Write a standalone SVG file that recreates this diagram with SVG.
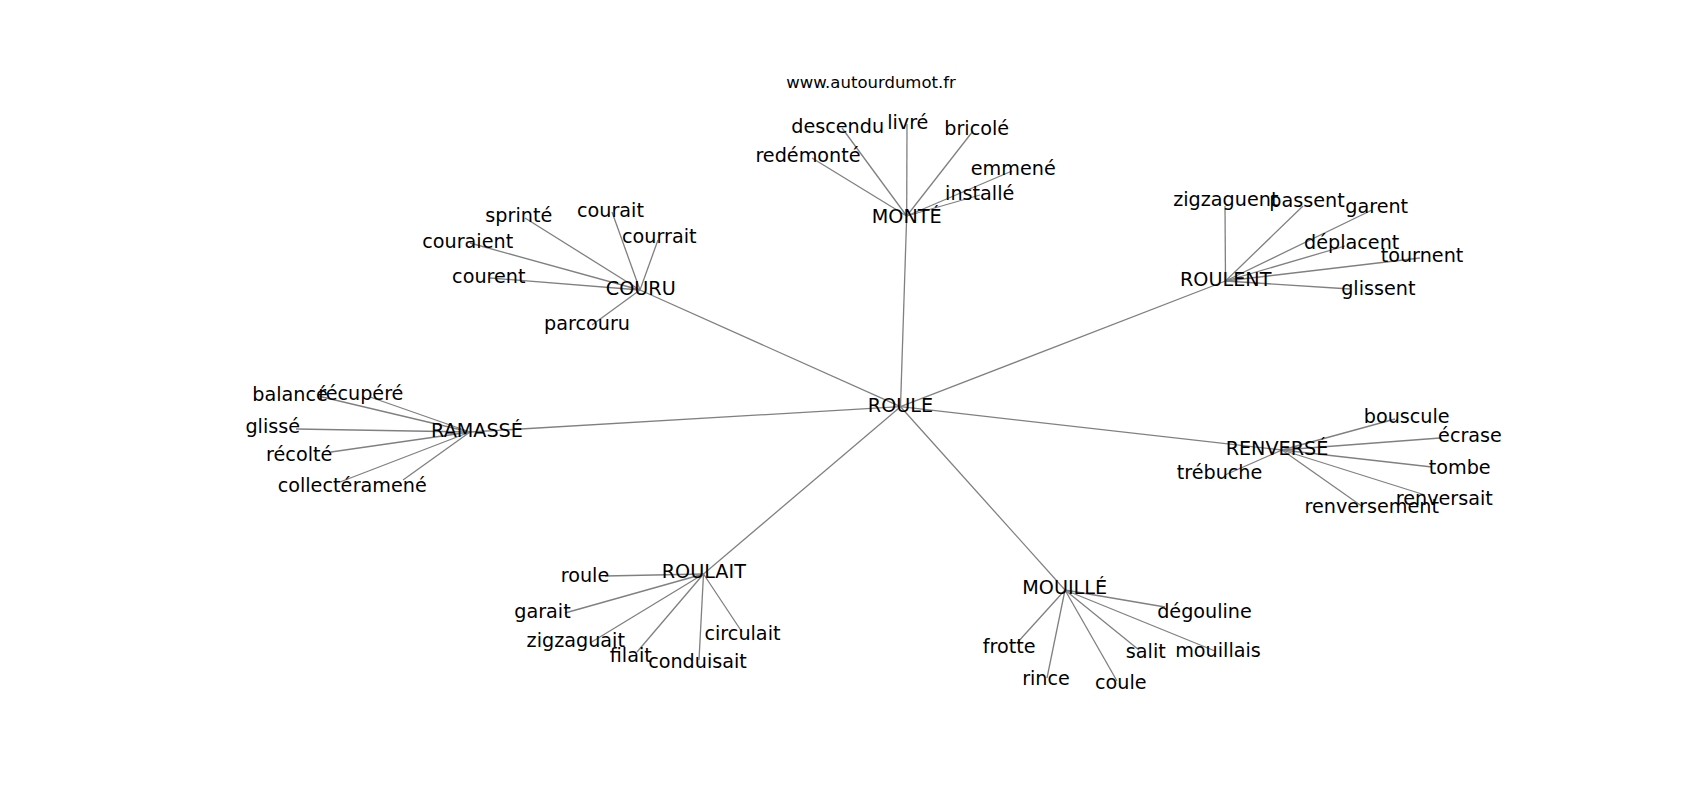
<svg xmlns="http://www.w3.org/2000/svg" width="1700" height="800" viewBox="0 0 1700 800">
<style>
.e{stroke:#808080;stroke-width:1.3;fill:none}
text{font-family:"DejaVu Sans","Liberation Sans",sans-serif;font-size:19.2px;fill:#000;text-anchor:middle}
.t{font-size:16.5px}
</style>
<rect width="1700" height="800" fill="#fff"/>
<text class="t" x="871" y="88">www.autourdumot.fr</text>
<g id="connectors">
<line class="e" x1="900.5" y1="406.7" x2="906.7" y2="216"/>
<line class="e" x1="900.5" y1="406.7" x2="640" y2="290"/>
<line class="e" x1="900.5" y1="406.7" x2="1225.5" y2="281"/>
<line class="e" x1="900.5" y1="406.7" x2="470" y2="432"/>
<line class="e" x1="900.5" y1="406.7" x2="1282" y2="450"/>
<line class="e" x1="900.5" y1="406.7" x2="703.5" y2="574"/>
<line class="e" x1="900.5" y1="406.7" x2="1065" y2="590"/>
<line class="e" x1="906.7" y1="216" x2="842" y2="128"/>
<line class="e" x1="906.7" y1="216" x2="907" y2="124"/>
<line class="e" x1="906.7" y1="216" x2="973" y2="131"/>
<line class="e" x1="906.7" y1="216" x2="812" y2="158"/>
<line class="e" x1="906.7" y1="216" x2="1012" y2="171"/>
<line class="e" x1="906.7" y1="216" x2="980" y2="195"/>
<line class="e" x1="640" y1="290" x2="525" y2="218"/>
<line class="e" x1="640" y1="290" x2="612" y2="212"/>
<line class="e" x1="640" y1="290" x2="658" y2="240"/>
<line class="e" x1="640" y1="290" x2="470" y2="243"/>
<line class="e" x1="640" y1="290" x2="490" y2="278"/>
<line class="e" x1="640" y1="290" x2="592" y2="325"/>
<line class="e" x1="1225.5" y1="281" x2="1225" y2="206"/>
<line class="e" x1="1225.5" y1="281" x2="1303" y2="206"/>
<line class="e" x1="1225.5" y1="281" x2="1372" y2="210"/>
<line class="e" x1="1225.5" y1="281" x2="1345" y2="246"/>
<line class="e" x1="1225.5" y1="281" x2="1420" y2="258"/>
<line class="e" x1="1225.5" y1="281" x2="1350" y2="289"/>
<line class="e" x1="470" y1="432" x2="318" y2="396"/>
<line class="e" x1="470" y1="432" x2="370" y2="397"/>
<line class="e" x1="470" y1="432" x2="296" y2="429"/>
<line class="e" x1="470" y1="432" x2="331" y2="452"/>
<line class="e" x1="470" y1="432" x2="340" y2="482"/>
<line class="e" x1="470" y1="432" x2="403" y2="480"/>
<line class="e" x1="1282" y1="450" x2="1395" y2="419"/>
<line class="e" x1="1282" y1="450" x2="1440" y2="438"/>
<line class="e" x1="1282" y1="450" x2="1432" y2="467"/>
<line class="e" x1="1282" y1="450" x2="1425" y2="495"/>
<line class="e" x1="1282" y1="450" x2="1363" y2="507"/>
<line class="e" x1="1282" y1="450" x2="1225" y2="475"/>
<line class="e" x1="703.5" y1="574" x2="605" y2="576"/>
<line class="e" x1="703.5" y1="574" x2="565" y2="613"/>
<line class="e" x1="703.5" y1="574" x2="590" y2="643"/>
<line class="e" x1="703.5" y1="574" x2="637" y2="652"/>
<line class="e" x1="703.5" y1="574" x2="699" y2="660"/>
<line class="e" x1="703.5" y1="574" x2="742" y2="632"/>
<line class="e" x1="1065" y1="590" x2="1165" y2="607"/>
<line class="e" x1="1065" y1="590" x2="1017" y2="643"/>
<line class="e" x1="1065" y1="590" x2="1047" y2="678"/>
<line class="e" x1="1065" y1="590" x2="1117" y2="681"/>
<line class="e" x1="1065" y1="590" x2="1139" y2="650"/>
<line class="e" x1="1065" y1="590" x2="1215" y2="651"/>
</g>
<g id="n-roule"><text x="900.5" y="411.7">ROULE</text></g>
<g id="n-monte"><text x="906.7" y="222.7">MONTÉ</text></g>
<g id="n-couru"><text x="640.8" y="295">COURU</text></g>
<g id="n-roulent"><text x="1225.7" y="286">ROULENT</text></g>
<g id="n-ramasse"><text x="477" y="436.7">RAMASSÉ</text></g>
<g id="n-renverse"><text x="1277" y="455">RENVERSÉ</text></g>
<g id="n-roulait"><text x="703.8" y="578.3">ROULAIT</text></g>
<g id="n-mouille"><text x="1064.7" y="594">MOUILLÉ</text></g>
<g id="n-descendu"><text x="837.7" y="132.7">descendu</text></g>
<g id="n-livre"><text x="907.8" y="129.3">livré</text></g>
<g id="n-bricole"><text x="976.7" y="135">bricolé</text></g>
<g id="n-redemonte"><text x="808" y="161.7">redémonté</text></g>
<g id="n-emmene"><text x="1013.3" y="175">emmené</text></g>
<g id="n-installe"><text x="979.7" y="200">installé</text></g>
<g id="n-sprinte"><text x="518.8" y="221.7">sprinté</text></g>
<g id="n-courait"><text x="610.5" y="216.7">courait</text></g>
<g id="n-courrait"><text x="659.3" y="243.3">courrait</text></g>
<g id="n-couraient"><text x="467.7" y="247.7">couraient</text></g>
<g id="n-courent"><text x="488.8" y="282.7">courent</text></g>
<g id="n-parcouru"><text x="587" y="330">parcouru</text></g>
<g id="n-zigzaguent"><text x="1225.8" y="206">zigzaguent</text></g>
<g id="n-passent"><text x="1307" y="207.3">passent</text></g>
<g id="n-garent"><text x="1376.7" y="212.7">garent</text></g>
<g id="n-deplacent"><text x="1351.7" y="249.3">déplacent</text></g>
<g id="n-tournent"><text x="1422" y="261.7">tournent</text></g>
<g id="n-glissent"><text x="1378.3" y="295">glissent</text></g>
<g id="n-balance"><text x="290" y="400.7">balancé</text></g>
<g id="n-recupere"><text x="360.8" y="400">récupéré</text></g>
<g id="n-glisse"><text x="272.7" y="433.3">glissé</text></g>
<g id="n-recolte"><text x="299.2" y="460.7">récolté</text></g>
<g id="n-collecte"><text x="315" y="491.7">collecté</text></g>
<g id="n-ramene"><text x="389.7" y="491.7">ramené</text></g>
<g id="n-bouscule"><text x="1406.7" y="422.7">bouscule</text></g>
<g id="n-ecrase"><text x="1470" y="441.7">écrase</text></g>
<g id="n-tombe"><text x="1459.7" y="474">tombe</text></g>
<g id="n-renversait"><text x="1444.3" y="505">renversait</text></g>
<g id="n-renversement"><text x="1371.7" y="513.3">renversement</text></g>
<g id="n-trebuche"><text x="1219.5" y="479.3">trébuche</text></g>
<g id="n-roule2"><text x="585" y="581.7">roule</text></g>
<g id="n-garait"><text x="542.5" y="618.3">garait</text></g>
<g id="n-zigzaguait"><text x="575.8" y="646.7">zigzaguait</text></g>
<g id="n-filait"><text x="630.8" y="661.7">filait</text></g>
<g id="n-conduisait"><text x="697.5" y="668.3">conduisait</text></g>
<g id="n-circulait"><text x="742.5" y="640">circulait</text></g>
<g id="n-degouline"><text x="1204.5" y="618.3">dégouline</text></g>
<g id="n-frotte"><text x="1009.2" y="653.3">frotte</text></g>
<g id="n-rince"><text x="1046" y="685">rince</text></g>
<g id="n-coule"><text x="1120.8" y="689.3">coule</text></g>
<g id="n-salit"><text x="1145.8" y="658.3">salit</text></g>
<g id="n-mouillais"><text x="1218" y="656.7">mouillais</text></g>
</svg>
